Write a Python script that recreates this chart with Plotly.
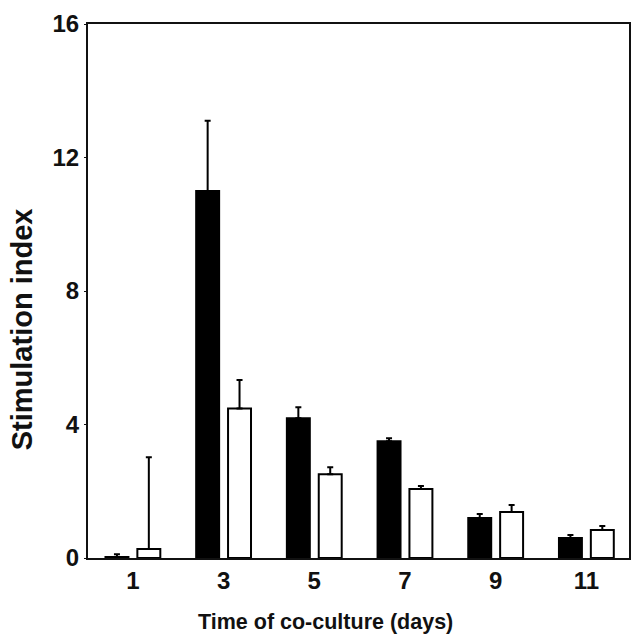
import plotly.graph_objects as go

days = ["1", "3", "5", "7", "9", "11"]
black_vals = [0.03, 11.0, 4.19, 3.5, 1.2, 0.6]
black_err = [0.08, 2.1, 0.33, 0.09, 0.12, 0.09]
white_vals = [0.27, 4.48, 2.51, 2.07, 1.38, 0.84]
white_err = [2.75, 0.85, 0.21, 0.09, 0.21, 0.12]
y_ticks = [0, 4, 8, 12, 16]

x_title = "Time of co-culture (days)"
y_title = "Stimulation index"

font_family = "Liberation Sans, Arial, sans-serif"

fig = go.Figure()
fig.add_trace(go.Bar(
    x=days, y=black_vals,
    marker=dict(color="black", line=dict(color="black", width=2)),
    error_y=dict(type="data", array=black_err, arrayminus=[0]*len(days),
                 symmetric=False, color="black", thickness=2, width=3),
    showlegend=False,
))
fig.add_trace(go.Bar(
    x=days, y=white_vals,
    marker=dict(color="white", line=dict(color="black", width=2)),
    error_y=dict(type="data", array=white_err, arrayminus=[0]*len(days),
                 symmetric=False, color="black", thickness=2, width=3),
    showlegend=False,
))

fig.update_layout(
    width=632, height=638,
    margin=dict(l=88, r=1, t=24, b=80),
    paper_bgcolor="white", plot_bgcolor="white",
    barmode="group", bargap=0.297, bargroupgap=0.28,
    font=dict(family=font_family, color="#111", size=20),
    xaxis=dict(
        type="category", range=[-0.495, 5.47],
        showline=True, linecolor="#111", linewidth=2, mirror=True,
        ticks="", showgrid=False, zeroline=False,
        tickfont=dict(family=font_family, size=24, color="#111", weight="bold"),
    ),
    yaxis=dict(
        range=[0, 16], tickvals=y_ticks,
        showline=True, linecolor="#111", linewidth=2, mirror=True,
        ticks="outside", ticklen=2, tickwidth=1, tickcolor="#111",
        showgrid=False, zeroline=False,
        tickfont=dict(family=font_family, size=24, color="#111", weight="bold"),
    ),
    annotations=[
        dict(text="<b>" + x_title + "</b>", xref="paper", yref="paper",
             x=(326 - 88) / 543, y=-(622 - 558) / 534,
             xanchor="center", yanchor="middle", showarrow=False,
             font=dict(family=font_family, size=21.5, color="#111")),
        dict(text="<b>" + y_title + "</b>", xref="paper", yref="paper",
             x=(22 - 88) / 543, y=(558 - 329) / 534, textangle=-90,
             xanchor="center", yanchor="middle", showarrow=False,
             font=dict(family=font_family, size=29, color="#111")),
    ],
)

fig.write_html("out.html")
